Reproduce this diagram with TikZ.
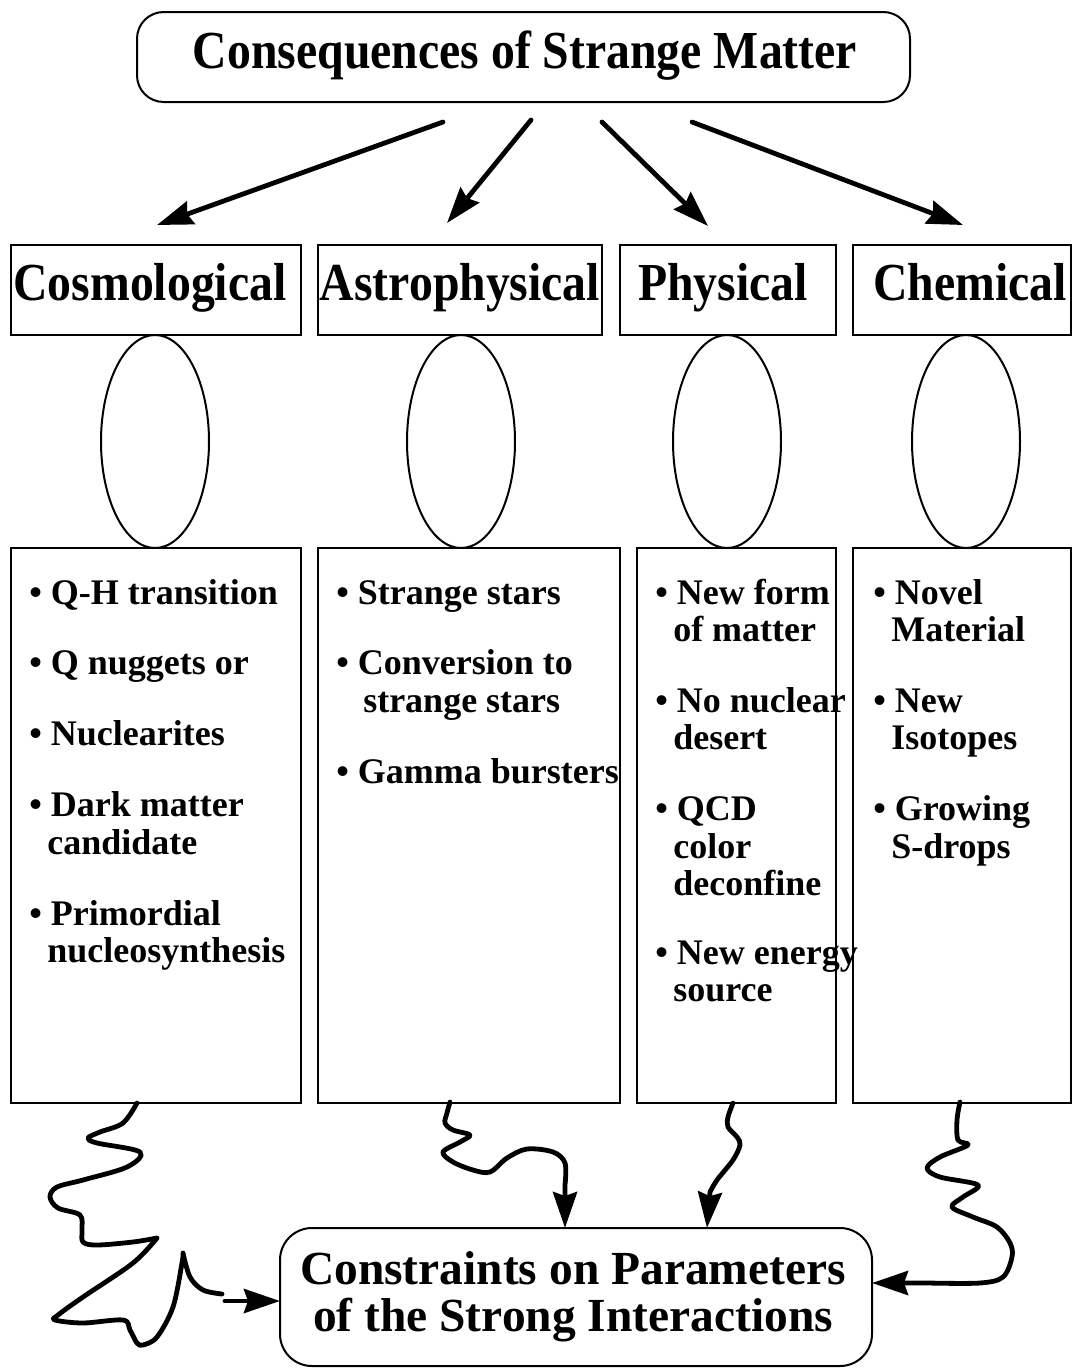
\documentclass[tikz,border=0pt]{standalone}
\usepackage{fontspec}
\usepackage{graphicx}
\setmainfont{Liberation Serif}
\usetikzlibrary{shapes.geometric,arrows.meta}
\newcommand\stretchtxt[1]{\scalebox{1}[1.12]{#1}}
\tikzset{
  frame/.style={draw, line width=1.5pt, inner sep=0pt, outer sep=0pt},
  catbox/.style={frame, rectangle, minimum height=67.5pt},
  listbox/.style={frame, rectangle, minimum height=416.25pt},
  oval/.style={frame, ellipse, minimum width=81pt, minimum height=159.75pt},
  roundbox/.style={frame, rectangle, rounded corners=20pt},
  bigtxt/.style={font=\fontsize{35.8}{40}\selectfont\bfseries, inner sep=0pt, anchor=base},
  bodytxt/.style={font=\fontsize{27}{28.125}\selectfont\bfseries, inner sep=0pt, anchor=base west},
  wire/.style={line width=3.6pt, line cap=round, line join=round},
  tipend/.style={-{Stealth[length=27pt,width=18pt,inset=3pt]}},
}
\begin{document}
\begin{tikzpicture}[x=0.75pt,y=-0.75pt]
\useasboundingbox (0,0) rectangle (1073,1368);
\fill[white] (0,0) rectangle (1073,1368);

% title
\node[roundbox, minimum width=579.75pt, minimum height=67.5pt] (top) at (523.5,57) {};
\node[bigtxt] (ttl) at (525,68) {\stretchtxt{Consequences of Strange Matter}};

% categories
\node[catbox, minimum width=217.5pt] (c1) at (156,290) {};
\node[catbox, minimum width=213pt] (c2) at (460,290) {};
\node[catbox, minimum width=162pt] (c3) at (728,290) {};
\node[catbox, minimum width=163.5pt] (c4) at (962,290) {};
\node[bigtxt] (l1) at (150,300) {\stretchtxt{Cosmological}};
\node[bigtxt] (l2) at (460,300) {\stretchtxt{Astrophysical}};
\node[bigtxt] (l3) at (723,300) {\stretchtxt{Physical}};
\node[bigtxt] (l4) at (970,300) {\stretchtxt{Chemical}};

% ellipses
\node[oval] (e1) at (155,441.5) {};
\node[oval] (e2) at (461,441.5) {};
\node[oval] (e3) at (727,441.5) {};
\node[oval] (e4) at (966,441.5) {};

% list boxes
\node[listbox, minimum width=217.5pt] (b1) at (156,825.5) {};
\node[listbox, minimum width=226.5pt] (b2) at (469,825.5) {};
\node[listbox, minimum width=149.25pt] (b3) at (736.5,825.5) {};
\node[listbox, minimum width=163.5pt] (b4) at (962,825.5) {};

\node[bodytxt] (t1) at (29,604) {\begin{tabular}[t]{@{}l@{}}
• Q-H transition\\[25.1pt]
• Q nuggets or\\[25.1pt]
• Nuclearites\\[25.1pt]
• Dark matter\\
\hspace*{13.5pt}candidate\\[25.1pt]
• Primordial\\
\hspace*{13.5pt}nucleosynthesis
\end{tabular}};

\node[bodytxt] (t2) at (336,604) {\begin{tabular}[t]{@{}l@{}}
• Strange stars\\[25.1pt]
• Conversion to\\
\hspace*{20.25pt}strange stars\\[25.1pt]
• Gamma bursters
\end{tabular}};

\node[bodytxt] (t3) at (655,604) {\begin{tabular}[t]{@{}l@{}}
• New form\\
\hspace*{13.5pt}of matter\\[25.1pt]
• No nuclear\\
\hspace*{13.5pt}desert\\[25.1pt]
• QCD\\
\hspace*{13.5pt}color\\
\hspace*{13.5pt}deconfine\\[23pt]
• New energy\\
\hspace*{13.5pt}source
\end{tabular}};

\node[bodytxt] (t4) at (873,604) {\begin{tabular}[t]{@{}l@{}}
• Novel\\
\hspace*{13.5pt}Material\\[25.1pt]
• New\\
\hspace*{13.5pt}Isotopes\\[25.1pt]
• Growing\\
\hspace*{13.5pt}S-drops
\end{tabular}};

% bottom box
\node[roundbox, rounded corners=24pt, minimum width=444pt, minimum height=103.5pt] (bot) at (576,1297) {};
\node[bigtxt, font=\fontsize{35.6}{40}\selectfont\bfseries] (bl1) at (573,1284) {Constraints on Parameters};
\node[bigtxt, font=\fontsize{35.6}{40}\selectfont\bfseries] (bl2) at (573,1331) {of the Strong Interactions};

% top arrows
\coordinate (a1s) at (443,122); \coordinate (a1e) at (157,225);
\coordinate (a2s) at (531,120); \coordinate (a2e) at (447,223);
\coordinate (a3s) at (602,122); \coordinate (a3e) at (708,226);
\coordinate (a4s) at (692,122); \coordinate (a4e) at (963,225);
\draw[wire, tipend] (a1s) -- (a1e);
\draw[wire, tipend] (a2s) -- (a2e);
\draw[wire, tipend] (a3s) -- (a3e);
\draw[wire, tipend] (a4s) -- (a4e);

% squiggle: cosmological
\draw[wire] plot[smooth, tension=0.55] coordinates {(137,1103) (123,1123) (100,1132) (88,1138) (97,1143) (140,1152) (127,1167) (83,1180) (57,1187) (50,1197) (58,1208) (80,1215) (82,1230) (83,1242) (97,1245) (133,1242) (157,1238)}
  plot[smooth, tension=0.55] coordinates {(157,1238) (133,1263) (83,1297) (58,1315) (55,1320) (83,1323) (123,1320) (130,1330) (137,1343) (143,1345) (157,1337) (173,1307) (182,1263) (183,1253)}
  plot[smooth, tension=0.55] coordinates {(183,1253) (190,1277) (203,1290) (222,1294)};
\coordinate (q1) at (225,1301);
\draw[wire, tipend] (q1) -- (bot.west |- 0,1301);

% squiggle: astrophysical
\draw[wire, tipend] plot[smooth, tension=0.55] coordinates {(450,1102) (447,1113) (445,1123) (453,1130) (470,1135) (460,1142) (443,1152) (453,1162) (473,1170) (490,1172) (507,1158) (527,1149) (553,1152) (565,1163) (565,1185)} -- (bot.north -| 565,0);

% squiggle: physical
\draw[wire, tipend] plot[smooth, tension=0.55] coordinates {(733,1103) (728,1117) (728,1127) (737,1137) (740,1145) (733,1160) (717,1180) (710,1192)} -- (bot.north -| 707,0);

% squiggle: chemical
\draw[wire, tipend] plot[smooth, tension=0.55] coordinates {(960,1102) (957,1120) (958,1140) (968,1145) (940,1157) (927,1168) (940,1177) (978,1185) (963,1197) (952,1207) (973,1217) (997,1227) (1010,1243) (1012,1257) (1003,1277) (980,1283) (928,1283)} -- (bot.east |- 0,1283);
\end{tikzpicture}
\end{document}
